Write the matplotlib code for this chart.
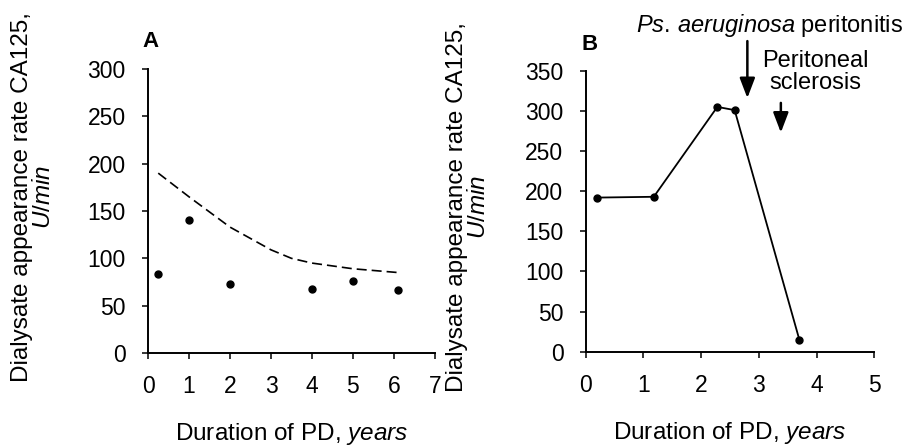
import matplotlib
matplotlib.use('Agg')
import matplotlib.pyplot as plt

plt.rcParams['font.family'] = 'Liberation Sans'
plt.rcParams['mathtext.fontset'] = 'custom'
plt.rcParams['mathtext.rm'] = 'Liberation Sans'
plt.rcParams['mathtext.it'] = 'Liberation Sans:italic'

# panel A: measured points and the dashed reference curve
a_x = [0.25, 1.0, 2.0, 4.0, 5.0, 6.1]
a_y = [83, 141, 73, 68, 76, 67]
a_curve_x = [0.25, 1.0, 2.0, 3.0, 3.5, 4.0, 5.0, 6.1]
a_curve_y = [190, 165, 133, 109, 100, 95, 89, 85]

# panel B: one patient
b_x = [0.19, 1.18, 2.28, 2.58, 3.70]
b_y = [192, 193, 305, 301, 15]

# events marked with arrows (years)
peritonitis_x = 2.80
sclerosis_x = 3.38

ylab = 'Dialysate appearance rate CA125,\n$\\it{U/min}$'
xlab = 'Duration of PD, $\\it{years}$'

fig = plt.figure(figsize=(9.08, 4.48), dpi=100)
axA = fig.add_axes([0.163, 0.212, 0.316, 0.634])
axB = fig.add_axes([0.645, 0.215, 0.318, 0.627])

for ax in (axA, axB):
    for s in ('top', 'right'):
        ax.spines[s].set_visible(False)
    for s in ('left', 'bottom'):
        ax.spines[s].set_linewidth(1.4)
    ax.tick_params(direction='out', length=4, width=1.1, labelsize=16.5, pad=12)
    ax.set_xlabel(xlab, fontsize=17.5, labelpad=16.5)
    ax.set_ylabel(ylab, fontsize=17.5, linespacing=1.0)

axA.plot(a_curve_x, a_curve_y, color='black', lw=1.2, dashes=(6, 3))
axA.plot(a_x, a_y, 'o', color='black', ms=5, ls='none')
axA.set_xlim(0, 7)
axA.set_ylim(0, 300)
axA.set_xticks(range(0, 8))
axA.set_yticks(range(0, 301, 50))
axA.yaxis.set_label_coords(-0.325, 0.55)
axA.text(-0.02, 1.06, 'A', transform=axA.transAxes, fontsize=16,
         fontweight='bold', ha='left', va='bottom')

axB.plot(b_x, b_y, '-o', color='black', lw=1.3, ms=5)
axB.set_xlim(0, 5)
axB.set_ylim(0, 350)
axB.set_xticks(range(0, 6))
axB.set_yticks(range(0, 351, 50))
axB.yaxis.set_label_coords(-0.33, 0.515)
axB.text(-0.015, 1.057, 'B', transform=axB.transAxes, fontsize=16,
         fontweight='bold', ha='left', va='bottom')

arr = dict(arrowstyle='-|>,head_length=0.55,head_width=0.21', color='black',
           lw=1.8, mutation_scale=22, shrinkA=0, shrinkB=0)
axB.annotate('', xy=(peritonitis_x, 316), xytext=(peritonitis_x, 387),
             arrowprops=arr, annotation_clip=False)
axB.annotate('', xy=(sclerosis_x, 273), xytext=(sclerosis_x, 310),
             arrowprops=arr, annotation_clip=False)
axB.text(3.18, 407, '$\\it{Ps.\\,aeruginosa}$ peritonitis', fontsize=17,
         ha='center', va='center', clip_on=False)
axB.text(3.98, 349, 'Peritoneal\nsclerosis', fontsize=17,
         ha='center', va='center', linespacing=1.0, clip_on=False)

fig.savefig('out.png', dpi=100)
